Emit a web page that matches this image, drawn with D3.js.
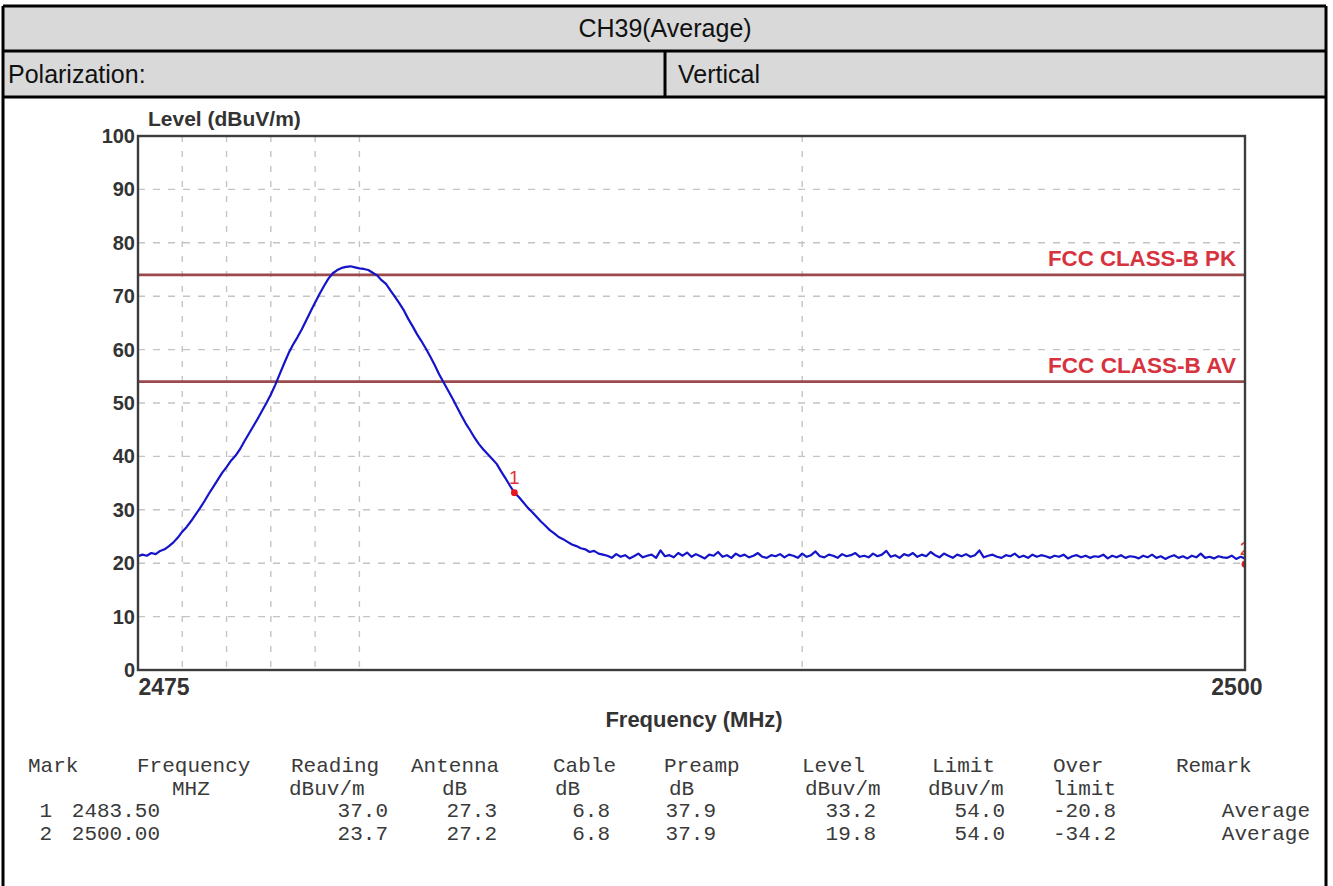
<!DOCTYPE html>
<html>
<head>
<meta charset="utf-8">
<script src="https://cdn.jsdelivr.net/npm/d3@7"></script>
<style>
  body { margin: 0; background: #fff; }
  svg { display: block; }
</style>
</head>
<body>
<div id="chart"></div>
<script>
// report header
let title = "CH39(Average)"
let polarizationLabel = "Polarization:"
let polarization = "Vertical"

// sweep 2475 -> 2500 MHz, one reading every 0.1 MHz (dBuV/m)
let sweepStart = 2475, sweepStep = 0.1
let levels = [
  21.3, 21.6, 21.4, 21.9, 21.7, 22.3, 22.6, 23.2, 23.9, 24.8,
  25.9, 26.8, 27.9, 29.1, 30.3, 31.6, 33.0, 34.3, 35.6, 36.9,
  38.0, 39.2, 40.1, 41.3, 42.8, 44.2, 45.6, 47.0, 48.5, 50.0,
  51.6, 53.4, 55.4, 57.4, 59.3, 60.9, 62.3, 63.8, 65.5, 67.2,
  68.8, 70.4, 71.9, 73.3, 74.3, 74.9, 75.3, 75.5, 75.6, 75.4,
  75.2, 75.1, 74.9, 74.4, 73.9, 73.0, 72.3, 71.1, 69.9, 68.7,
  67.4, 65.8, 64.4, 62.9, 61.6, 60.2, 58.7, 57.1, 55.4, 53.9,
  52.4, 50.9, 49.3, 47.7, 46.2, 44.9, 43.5, 42.3, 41.3, 40.4,
  39.5, 38.6, 37.2, 35.9, 34.5, 33.2, 32.4, 31.4, 30.4, 29.6,
  28.7, 27.8, 27.0, 26.2, 25.6, 24.9, 24.5, 24.0, 23.5, 23.2,
  22.8, 22.6, 22.1, 22.3, 21.8, 21.6,
  21.4, 21.0, 21.7, 21.2, 21.5, 20.9, 21.3, 21.8, 21.1, 21.4,
  21.6, 21.0, 22.4, 21.3, 21.5, 21.1, 21.9, 21.4, 22.0, 21.2,
  21.7, 21.3, 20.9, 21.6, 21.4, 22.1, 21.2, 21.5, 21.0, 21.8,
  21.3, 21.6, 21.1, 21.4, 21.9, 21.2, 21.0, 21.5, 21.3, 21.7,
  21.1, 21.6, 21.4, 21.0, 21.8, 21.2, 21.5, 22.2, 21.3, 21.1,
  21.6, 21.4, 21.0, 21.7, 21.3, 21.5, 21.9, 21.2, 21.4, 21.1,
  21.8, 21.3, 21.6, 22.3, 21.2, 21.5, 21.0, 21.7, 21.4, 21.9,
  21.2, 21.6, 21.3, 22.1, 21.5, 21.1, 21.8, 21.4, 21.0, 21.6,
  21.3, 21.7, 21.2, 21.5, 22.4, 21.1, 21.4, 21.6, 21.2, 21.0,
  21.5, 21.3, 21.8, 21.1, 21.4, 21.0, 21.6, 21.2, 21.5, 21.3,
  21.0, 21.4, 21.2, 21.6, 20.9, 21.3, 21.5, 21.1, 21.4, 21.0,
  21.3, 21.2, 21.6, 20.9, 21.4, 21.1, 21.5, 21.0, 21.3, 21.2,
  20.9, 21.4, 21.1, 21.6, 21.0, 21.3, 20.8, 21.2, 21.5, 21.0,
  21.3, 20.9, 21.4, 21.1, 21.8, 21.0, 21.2, 20.9, 21.3, 21.1,
  21.0, 21.4, 20.8, 21.2, 20.9
]

let limitNames = ["FCC CLASS-B PK", "FCC CLASS-B AV"]
let limitValues = [74, 54]

let yTicks = [0, 10, 20, 30, 40, 50, 60, 70, 80, 90, 100]
let yGrid = [10, 20, 30, 40, 50, 60, 70, 80, 90]
let xTicks = [2475, 2500]
let xGrid = [2476, 2477, 2478, 2479, 2480, 2490]

// marker table
let tableHead = ["Mark", "Frequency", "Reading", "Antenna", "Cable", "Preamp", "Level", "Limit", "Over", "Remark"]
let tableUnits = ["", "MHZ", "dBuv/m", "dB", "dB", "dB", "dBuv/m", "dBuv/m", "limit", ""]
let markRows = [
  ["1", "2483.50", "37.0", "27.3", "6.8", "37.9", "33.2", "54.0", "-20.8", "Average"],
  ["2", "2500.00", "23.7", "27.2", "6.8", "37.9", "19.8", "54.0", "-34.2", "Average"]
]

let width = 1333, height = 886
let plot = { left: 138, right: 1245, top: 136, bottom: 670 }

let svg = d3.select("#chart").append("svg")
    .attr("width", width)
    .attr("height", height)

// ---- header table ----
svg.append("rect")
    .attr("x", 3).attr("y", 6)
    .attr("width", 1323).attr("height", 91)
    .style("fill", "#d9d9d9")

svg.append("text")
    .attr("x", 665).attr("y", 37)
    .attr("text-anchor", "middle")
    .style("font", "25px 'Liberation Sans', Arial, sans-serif")
    .style("fill", "#111")
    .text(title)

svg.append("text")
    .attr("x", 8).attr("y", 83)
    .style("font", "25px 'Liberation Sans', Arial, sans-serif")
    .style("fill", "#111")
    .text(polarizationLabel)

svg.append("text")
    .attr("x", 678).attr("y", 83)
    .style("font", "25px 'Liberation Sans', Arial, sans-serif")
    .style("fill", "#111")
    .text(polarization)

let borders = [
  [3, 6, 1326, 6], [3, 51, 1326, 51], [3, 97, 1326, 97],
  [3, 6, 3, 886], [1326, 6, 1326, 886], [665, 51, 665, 97]
]
svg.selectAll("line.border")
    .data(borders).enter()
    .append("line")
      .classed("border", true)
      .attr("x1", d => d[0]).attr("y1", d => d[1])
      .attr("x2", d => d[2]).attr("y2", d => d[3])
      .style("stroke", "#000")
      .style("stroke-width", 3)

// ---- chart ----
let x = d3.scaleLinear()
    .domain([sweepStart, 2500])
    .range([plot.left, plot.right])
let y = d3.scaleLinear()
    .domain([0, 100])
    .range([plot.bottom, plot.top])

svg.append("clipPath").attr("id", "plot_clip")
  .append("rect")
    .attr("x", plot.left).attr("y", plot.top)
    .attr("width", plot.right - plot.left)
    .attr("height", plot.bottom - plot.top)

let grid = svg.append("g").style("stroke", "#c4c4c4").style("stroke-width", 1.4)

grid.selectAll("line.hgrid")
    .data(yGrid).enter()
    .append("line")
      .attr("x1", plot.left).attr("x2", plot.right)
      .attr("y1", d => y(d)).attr("y2", d => y(d))
      .style("stroke-dasharray", "7,8")

grid.selectAll("line.vgrid")
    .data(xGrid).enter()
    .append("line")
      .attr("x1", d => x(d)).attr("x2", d => x(d))
      .attr("y1", plot.top).attr("y2", plot.bottom)
      .style("stroke-dasharray", "6,9")

// limit lines
let limits = svg.append("g")
limits.selectAll("line")
    .data(limitValues).enter()
    .append("line")
      .attr("x1", plot.left).attr("x2", plot.right)
      .attr("y1", d => y(d)).attr("y2", d => y(d))
      .style("stroke", "#9c4a4c")
      .style("stroke-width", 2.6)

limits.selectAll("text")
    .data(limitValues).enter()
    .append("text")
      .attr("x", plot.right - 9)
      .attr("y", d => y(d) - 9)
      .attr("text-anchor", "end")
      .attr("textLength", 188)
      .attr("lengthAdjust", "spacingAndGlyphs")
      .style("font", "bold 22px 'Liberation Sans', Arial, sans-serif")
      .style("fill", "#d7333f")
      .text((d, i) => limitNames[i])

// trace
let line = d3.line()
    .x((d, i) => x(sweepStart + i * sweepStep))
    .y(d => y(d))

svg.append("path")
    .datum(levels)
    .attr("clip-path", "url(#plot_clip)")
    .attr("d", line)
    .style("fill", "none")
    .style("stroke", "#1414c8")
    .style("stroke-width", 2.2)
    .style("stroke-linejoin", "round")

// markers
let marks = svg.append("g").attr("clip-path", "url(#plot_clip)")
  .selectAll("g")
    .data(markRows).enter()
    .append("g")
      .attr("transform", d => "translate(" + x(+d[1]) + "," + y(+d[6]) + ")")

marks.append("circle")
    .attr("r", 3.4)
    .style("fill", "#e8141e")

marks.append("text")
    .attr("y", -9)
    .attr("text-anchor", "middle")
    .style("font", "19px 'Liberation Sans', Arial, sans-serif")
    .style("fill", "#e0303a")
    .text(d => d[0])

// frame
svg.append("rect")
    .attr("x", plot.left).attr("y", plot.top)
    .attr("width", plot.right - plot.left)
    .attr("height", plot.bottom - plot.top)
    .style("fill", "none")
    .style("stroke", "#3c3c3c")
    .style("stroke-width", 2.4)

// axes
let yAxis = svg.append("g")
    .attr("transform", "translate(" + plot.left + ",0)")
    .call(d3.axisLeft(y).tickValues(yTicks).tickSize(0).tickPadding(3))
yAxis.select(".domain").remove()
yAxis.selectAll("text")
    .style("font", "bold 20px 'Liberation Sans', Arial, sans-serif")
    .style("fill", "#333")

let xAxis = svg.append("g")
    .attr("transform", "translate(0," + plot.bottom + ")")
    .call(d3.axisBottom(x).tickValues(xTicks).tickSize(0).tickPadding(9).tickFormat(d3.format("d")))
xAxis.select(".domain").remove()
xAxis.selectAll("text")
    .style("font", "bold 23px 'Liberation Sans', Arial, sans-serif")
    .style("fill", "#333")
    .attr("text-anchor", (d, i) => i == 0 ? "start" : "end")
    .attr("dx", (d, i) => i == 0 ? 0 : 17)

svg.append("text")
    .attr("x", plot.left + 10).attr("y", 126)
    .style("font", "bold 21px 'Liberation Sans', Arial, sans-serif")
    .style("fill", "#333")
    .text("Level (dBuV/m)")

svg.append("text")
    .attr("x", 694).attr("y", 727)
    .attr("text-anchor", "middle")
    .style("font", "bold 22px 'Liberation Sans', Arial, sans-serif")
    .style("fill", "#333")
    .text("Frequency (MHz)")

// ---- marker table ----
let headX = [28, 137, 291, 411, 553, 664, 802, 932, 1053, 1176]
let unitX = [0, 172, 289, 442, 555, 669, 805, 928, 1053, 0]
let cellEnd = [52, 160, 388, 497, 610, 716, 876, 1005, 1116, 1310]
let mono = "21px 'Courier New', 'Liberation Mono', monospace"

svg.append("g").selectAll("text")
    .data(tableHead).enter()
    .append("text")
      .attr("x", (d, i) => headX[i]).attr("y", 772)
      .style("font", mono).style("fill", "#3a3a3a")
      .text(d => d)

svg.append("g").selectAll("text")
    .data(tableUnits).enter()
    .append("text")
      .attr("x", (d, i) => unitX[i]).attr("y", 795)
      .style("font", mono).style("fill", "#3a3a3a")
      .text(d => d)

svg.selectAll("g.row")
    .data(markRows).enter()
    .append("g")
      .classed("row", true)
      .attr("transform", (d, i) => "translate(0," + (817 + i * 23) + ")")
    .selectAll("text")
    .data(d => d).enter()
    .append("text")
      .attr("x", (d, i) => cellEnd[i])
      .attr("text-anchor", "end")
      .style("font", mono).style("fill", "#3a3a3a")
      .text(d => d)
</script>
</body>
</html>
